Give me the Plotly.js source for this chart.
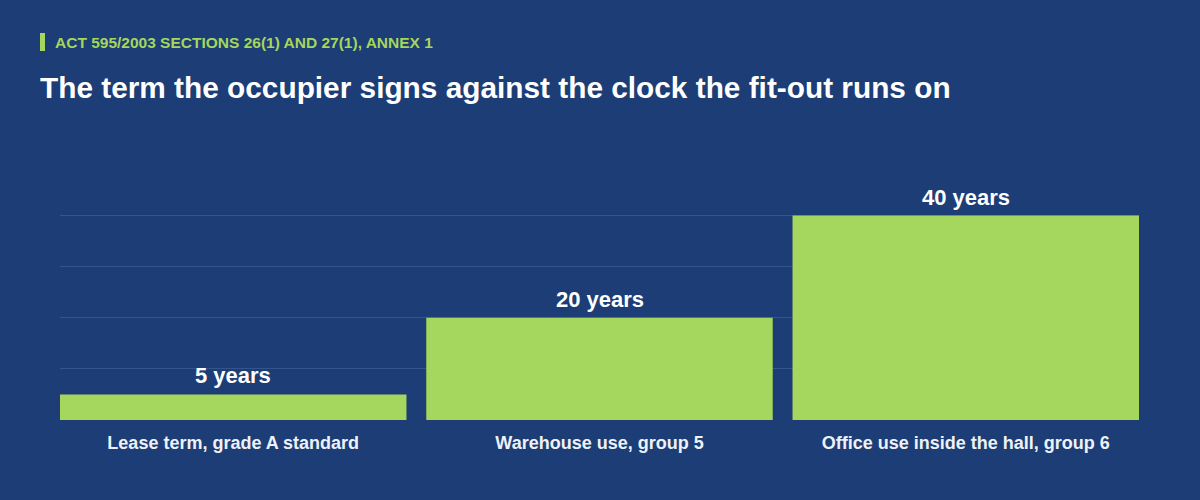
<!DOCTYPE html>
<html>
<head>
<meta charset="utf-8">
<script src="https://cdn.plot.ly/plotly-3.0.1.min.js"></script>
<style>
html,body{margin:0;padding:0;background:#1c3d75;}
#chart{width:1200px;height:500px;}
</style>
</head>
<body>
<div id="chart"></div>
<script>
const categories = ["Lease term, grade A standard", "Warehouse use, group 5", "Office use inside the hall, group 6"];
const years = [5, 20, 40];
const barLabels = ["5 years", "20 years", "40 years"];
const eyebrow = "ACT 595/2003 SECTIONS 26(1) AND 27(1), ANNEX 1";
const chartTitle = "The term the occupier signs against the clock the fit-out runs on";

const FONT = "'Liberation Sans', Arial, sans-serif";
const GREEN = "#a5d65e";

const trace = {
  type: "bar",
  x: categories,
  y: years,
  marker: {color: GREEN, line: {width: 0}},
  hoverinfo: "skip"
};

const labelAnnotations = categories.map((c, i) => ({
  xref: "x", yref: "y", x: c, y: years[i],
  xanchor: "center", yanchor: "bottom", yshift: 4,
  showarrow: false, text: barLabels[i],
  font: {family: FONT, size: 22, color: "#ffffff", weight: 700}
}));

const layout = {
  width: 1200, height: 500,
  paper_bgcolor: "#1c3d75",
  plot_bgcolor: "#1c3d75",
  margin: {l: 60, r: 61, t: 190, b: 80},
  bargap: 0.054,
  showlegend: false,
  xaxis: {
    range: [-0.473, 2.473],
    showgrid: false, zeroline: false, showline: false,
    ticks: "", ticklabelstandoff: 10,
    tickfont: {family: FONT, size: 18, color: "#eef1f7", weight: 700},
    fixedrange: true
  },
  yaxis: {
    range: [0, 45],
    dtick: 10, tick0: 0,
    showticklabels: false, ticks: "",
    showgrid: true, gridcolor: "#34558c", gridwidth: 1,
    zeroline: false, showline: false,
    fixedrange: true
  },
  shapes: [{
    type: "rect", xref: "paper", yref: "paper",
    x0: -20/1079, x1: -15/1079,
    y0: (500-80-33)/230 , y1: (500-80-51)/230,
    line: {width: 0}, fillcolor: GREEN
  }],
  annotations: [
    {
      xref: "paper", yref: "paper", x: -7/1079, y: (420-42)/230,
      xanchor: "left", yanchor: "middle", showarrow: false,
      text: eyebrow,
      font: {family: FONT, size: 15.5, color: GREEN, weight: 700}
    },
    {
      xref: "paper", yref: "paper", x: -22/1079, y: (420-88)/230,
      xanchor: "left", yanchor: "middle", showarrow: false,
      text: chartTitle,
      font: {family: FONT, size: 29.8, color: "#ffffff", weight: 700}
    }
  ].concat(labelAnnotations)
};

Plotly.newPlot("chart", [trace], layout, {displayModeBar: false, staticPlot: true});
</script>
</body>
</html>
